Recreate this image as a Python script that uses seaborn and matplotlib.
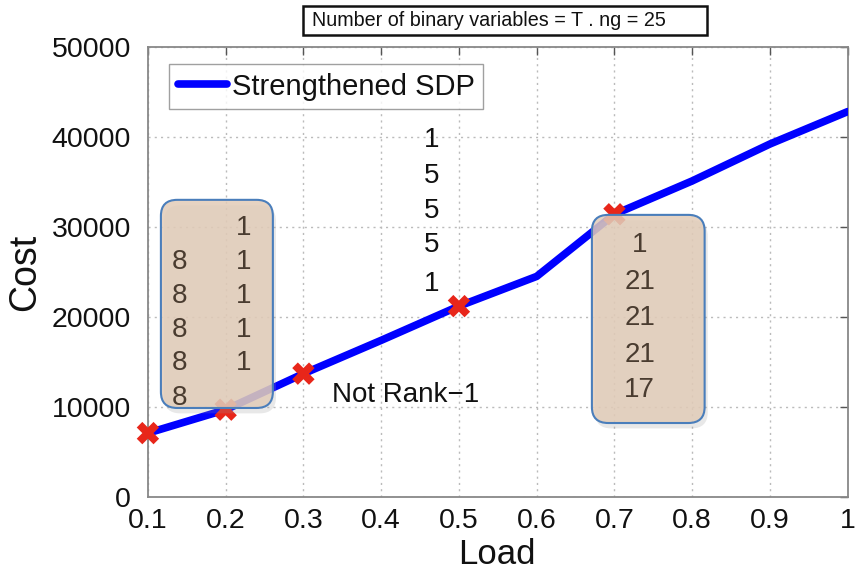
import matplotlib
matplotlib.use("Agg")
import matplotlib.pyplot as plt
from matplotlib import font_manager
from matplotlib.patches import FancyBboxPatch, Rectangle
import seaborn as sns
import pandas as pd

# Cost of the strengthened SDP relaxation versus load
load = [0.1, 0.2, 0.3, 0.4, 0.5, 0.6, 0.7, 0.8, 0.9, 1.0]
cost = [7100, 9700, 13700, 17400, 21200, 24500, 31400, 35100, 39200, 42800]

# Loads where the solution was checked for rank
checked_load = [0.1, 0.2, 0.3, 0.5, 0.7]
checked_cost = [7100, 9700, 13700, 21200, 31400]

# Eigenvalue-count annotations
left_col_a = ["", "8", "8", "8", "8", "8"]
left_col_b = ["1", "1", "1", "1", "1", ""]
mid_col = ["1", "5", "5", "5", "1"]
right_col = ["1", "21", "21", "21", "17"]

title_text = "Number of binary variables = T . ng = 25"
series_name = "Strengthened SDP"

x_ticks = [0.1, 0.2, 0.3, 0.4, 0.5, 0.6, 0.7, 0.8, 0.9, 1.0]
x_tick_labels = ["0.1", "0.2", "0.3", "0.4", "0.5", "0.6", "0.7", "0.8", "0.9", "1"]
y_ticks = [0, 10000, 20000, 30000, 40000, 50000]

sns.set_theme(style="white")
available = {f.name for f in font_manager.fontManager.ttflist}
narrow = "Liberation Sans Narrow" if "Liberation Sans Narrow" in available else "Liberation Sans"
plt.rcParams["font.family"] = [narrow, "DejaVu Sans"]

fig = plt.figure(figsize=(8.65, 5.7), dpi=100)
ax = fig.add_axes([0.171, 0.128, 0.809, 0.790])

df = pd.DataFrame({"Load": load, "Cost": cost, "series": series_name})
pts = pd.DataFrame({"Load": checked_load, "Cost": checked_cost})

sns.lineplot(data=df, x="Load", y="Cost", hue="series", palette=["#0000ff"],
             linewidth=5.5, ax=ax, zorder=3, legend=True)
sns.scatterplot(data=pts, x="Load", y="Cost", marker="X", s=260, color="#e8261a",
                edgecolor="none", ax=ax, zorder=4, legend=False, clip_on=False)

ax.set_xlim(0.1, 1.0)
ax.set_ylim(0, 50000)
ax.set_xticks(x_ticks)
ax.set_xticklabels(x_tick_labels)
ax.set_yticks(y_ticks)
ax.tick_params(axis="both", labelsize=20.5, labelcolor="#111111", direction="in",
               length=6, width=1, top=True, right=True, color="#555555")
ax.tick_params(axis="x", pad=8)
ax.tick_params(axis="y", pad=12)
for s in ax.spines.values():
    s.set_color("#888888")
    s.set_linewidth(1.3)
ax.grid(True, linestyle=(0, (1.5, 3)), color="#bbbbbb", linewidth=1)
ax.set_xlabel("Load", fontsize=25, color="#111111")
ax.xaxis.label.set_verticalalignment("center")
ax.xaxis.set_label_coords(0.4986, -0.127)
ax.set_ylabel("Cost", fontsize=27, labelpad=6, color="#111111")

leg = ax.legend(loc="upper left", bbox_to_anchor=(0.030, 0.962), fontsize=21,
                frameon=True, fancybox=False, handlelength=1.7, handletextpad=0.15,
                borderpad=0.3, borderaxespad=0)
leg.get_frame().set_edgecolor("#888888")
leg.get_frame().set_linewidth(1)
for t in leg.get_texts():
    t.set_color("#111111")

# Title box above the axes
fig.patches.append(Rectangle((0.350, 0.9386), 0.467, 0.0509, transform=fig.transFigure,
                             facecolor="white", edgecolor="#111111", linewidth=1.8))
fig.text(0.3607, 0.9645, title_text, fontsize=14.2, ha="left", va="center",
         color="#111111")

tan = "#e2ccb8"
edge = "#4a7ebb"
text_brown = "#4a3c30"
ASPECT = 85000


def rounded_box(x0, y0, x1, y1):
    w, h = x1 - x0, y1 - y0
    style = "round,pad=0,rounding_size=0.021"
    # soft drop shadow
    ax.add_patch(FancyBboxPatch((x0 + 0.004, y0 - 600), w, h, boxstyle=style,
                                mutation_aspect=ASPECT, facecolor="#999999",
                                alpha=0.22, edgecolor="none", zorder=5))
    ax.add_patch(FancyBboxPatch((x0, y0), w, h, boxstyle=style,
                                mutation_aspect=ASPECT, facecolor=tan, alpha=0.85,
                                edgecolor="none", zorder=6))
    ax.add_patch(FancyBboxPatch((x0, y0), w, h, boxstyle=style,
                                mutation_aspect=ASPECT, facecolor="none",
                                edgecolor=edge, linewidth=1.5, zorder=7))


rounded_box(0.1167, 9890, 0.2607, 33000)
rounded_box(0.671, 8220, 0.816, 31330)

left_rows = [29890, 26110, 22330, 18560, 14890, 11000]
for yv, a, b in zip(left_rows, left_col_a, left_col_b):
    if a:
        ax.text(0.141, yv, a, fontsize=20, ha="center", va="center",
                color=text_brown, zorder=8)
    if b:
        ax.text(0.2234, yv, b, fontsize=20, ha="center", va="center",
                color=text_brown, zorder=8)

mid_rows = [39670, 35670, 31780, 28000, 23670]
for yv, t in zip(mid_rows, mid_col):
    ax.text(0.4651, yv, t, fontsize=20, ha="center", va="center",
            color="#111111", zorder=8)

right_rows = [28000, 23890, 19890, 15780, 11890]
for yv, t in zip(right_rows, right_col):
    ax.text(0.7325, yv, t, fontsize=20, ha="center", va="center",
            color=text_brown, zorder=8)

ax.text(0.3366, 11300, "Not Rank\u22121", fontsize=20, ha="left", va="center",
        color="#111111", zorder=8)

fig.savefig("out.png", dpi=100)
